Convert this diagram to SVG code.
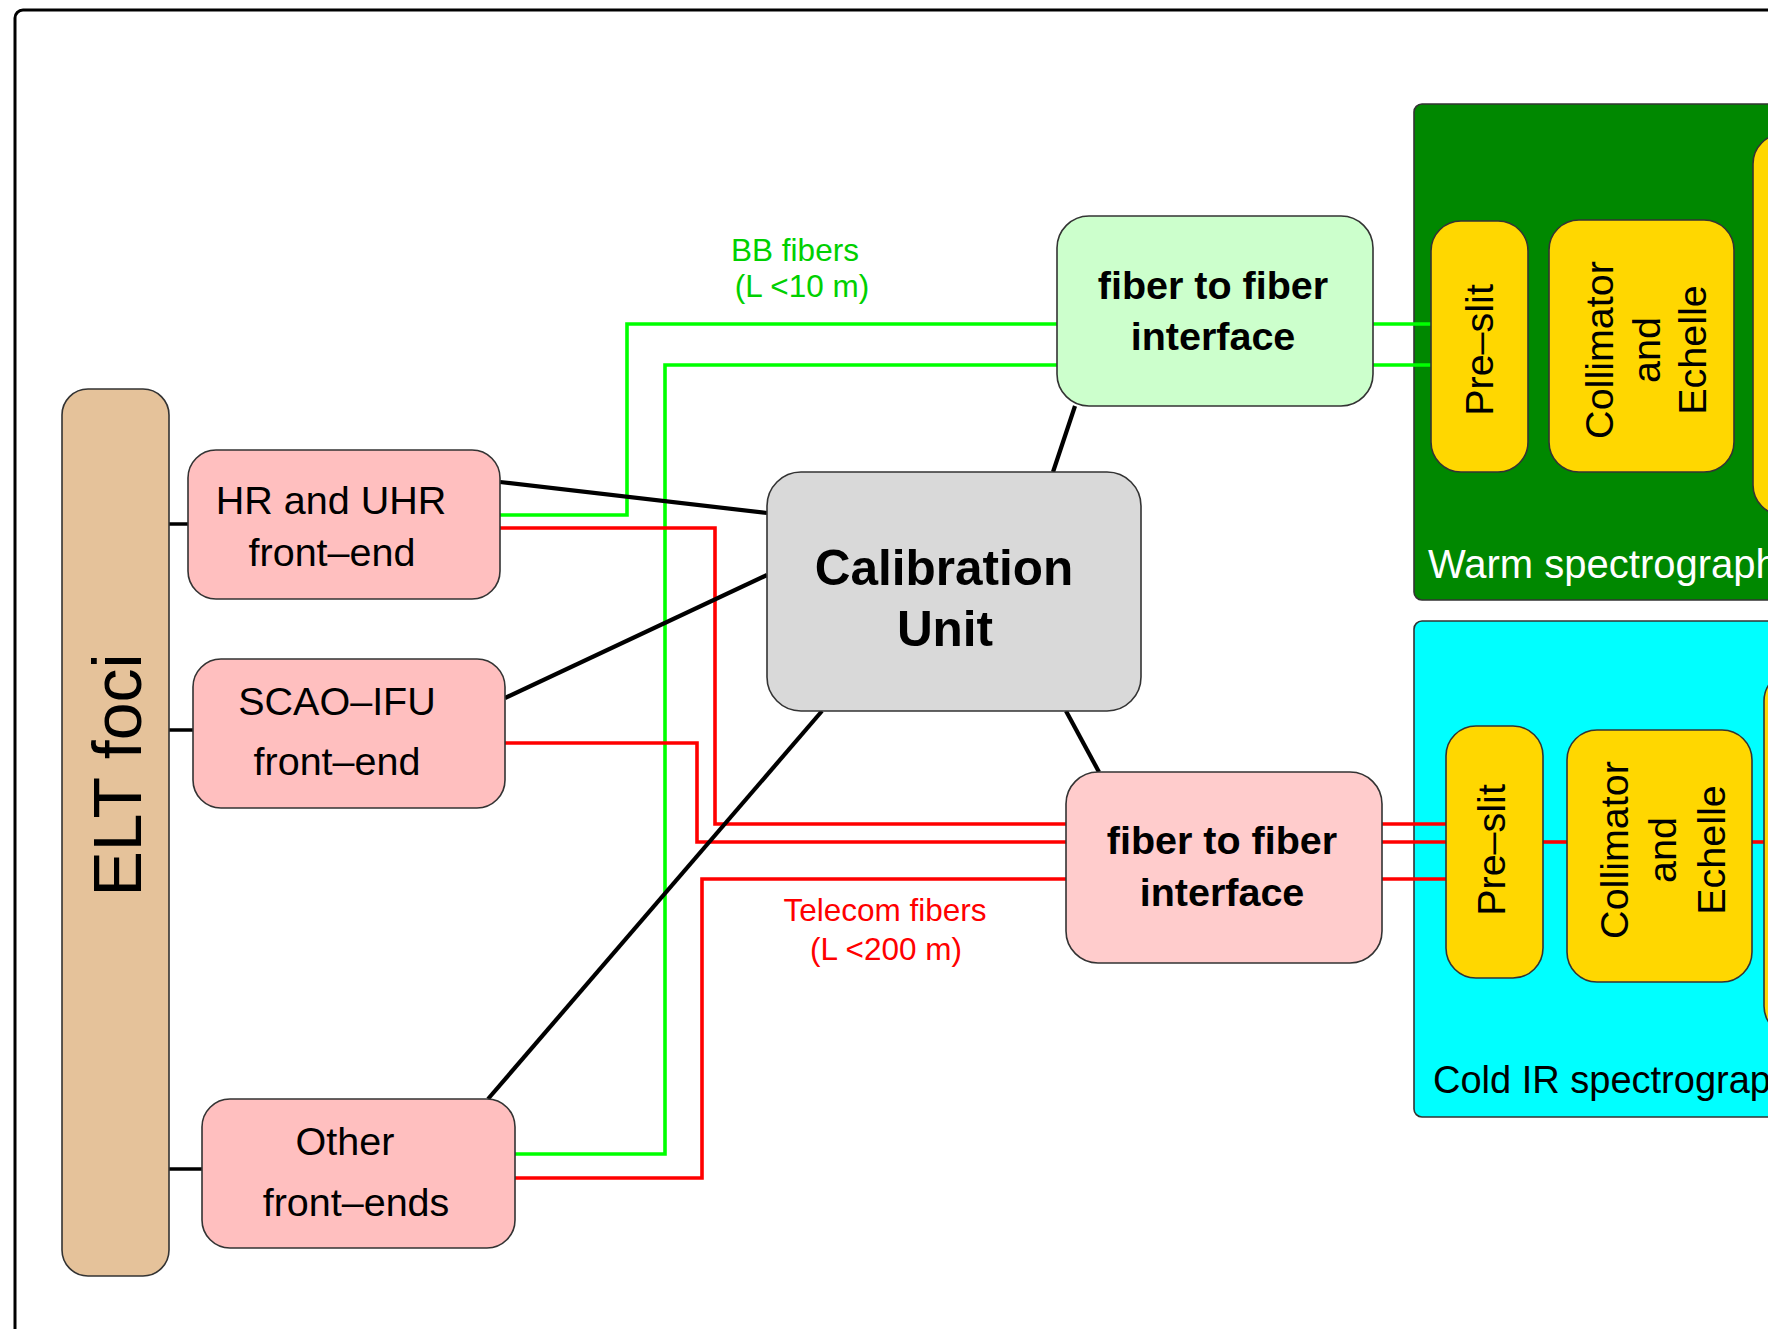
<svg xmlns="http://www.w3.org/2000/svg" width="1768" height="1329" viewBox="0 0 1768 1329">
  <style>
    text { font-family: "Liberation Sans", Arial, Helvetica, sans-serif; }
    .box { stroke: #333333; stroke-width: 1.6; }
    .lbl { font-size: 39.5px; fill: #000000; text-anchor: middle; }
    .bold { font-weight: bold; }
    .wire { fill: none; stroke: #000000; stroke-width: 4.2; }
    .stub { fill: none; stroke: #000000; stroke-width: 3.5; }
    .bb { fill: none; stroke: #00FF00; stroke-width: 3.6; }
    .tel { fill: none; stroke: #FF0000; stroke-width: 3.6; }
    .frontend { fill: #FFBFBF; }
    .yellow { fill: #FFD700; }
  </style>

  <rect width="1768" height="1329" fill="#FFFFFF"/>

  <!-- outer frame -->
  <rect x="15" y="10" width="1800" height="1360" rx="8" fill="none" stroke="#000000" stroke-width="3"/>

  <!-- spectrograph enclosures -->
  <g id="warm-spectrograph">
    <rect class="box" x="1414" y="104" width="400" height="496" rx="8" fill="#008800"/>
    <text x="1428" y="578" style="font-size:40px" fill="#FFFFFF">Warm spectrograph</text>
  </g>
  <g id="cold-spectrograph">
    <rect class="box" x="1414" y="621" width="400" height="496" rx="8" fill="#00FFFF"/>
    <text x="1433" y="1093" style="font-size:38px" fill="#000000">Cold IR spectrograph</text>
  </g>

  <!-- fiber runs and connectors -->
  <g id="connectors">
    <!-- BB fibers (green) -->
    <polyline class="bb" points="500,515 627,515 627,324 1057,324"/>
    <polyline class="bb" points="515,1154 665,1154 665,365 1057,365"/>
    <line class="bb" x1="1373" y1="324" x2="1431" y2="324"/>
    <line class="bb" x1="1373" y1="365" x2="1431" y2="365"/>

    <!-- Telecom fibers (red) -->
    <polyline class="tel" points="500,528 715,528 715,824 1066,824"/>
    <polyline class="tel" points="505,743 697,743 697,842 1066,842"/>
    <polyline class="tel" points="515,1178 702,1178 702,879 1066,879"/>
    <line class="tel" x1="1382" y1="824" x2="1446" y2="824"/>
    <line class="tel" x1="1382" y1="842" x2="1446" y2="842"/>
    <line class="tel" x1="1382" y1="879" x2="1446" y2="879"/>
    <line class="tel" x1="1543" y1="842" x2="1567" y2="842"/>
    <line class="tel" x1="1752" y1="842" x2="1764" y2="842"/>

    <!-- ELT foci to front-ends -->
    <line class="stub" x1="169" y1="524" x2="188" y2="524"/>
    <line class="stub" x1="169" y1="730" x2="193" y2="730"/>
    <line class="stub" x1="169" y1="1169" x2="202" y2="1169"/>

    <!-- calibration links -->
    <line class="wire" x1="500" y1="482" x2="767" y2="513"/>
    <line class="wire" x1="505" y1="698" x2="767" y2="575"/>
    <line class="wire" x1="488" y1="1099" x2="822" y2="711"/>
    <line class="wire" x1="1053" y1="472" x2="1075" y2="406"/>
    <line class="wire" x1="1066" y1="711" x2="1099" y2="772"/>
  </g>

  <!-- fiber labels -->
  <g id="bb-label" fill="#00D000" style="font-size:31.5px" text-anchor="middle">
    <text x="795" y="261">BB fibers</text>
    <text x="802" y="297">(L &lt;10 m)</text>
  </g>
  <g id="telecom-label" fill="#FF0000" style="font-size:31.5px" text-anchor="middle">
    <text x="885" y="921">Telecom fibers</text>
    <text x="886" y="960">(L &lt;200 m)</text>
  </g>

  <!-- ELT foci -->
  <g id="elt-foci">
    <rect class="box" x="62" y="389" width="107" height="887" rx="26" fill="#E5C29A"/>
    <text transform="translate(141,775) rotate(-90)" style="font-size:68px" text-anchor="middle">ELT foci</text>
  </g>

  <!-- front-ends -->
  <g id="hr-uhr-front-end">
    <rect class="box frontend" x="188" y="450" width="312" height="149" rx="28"/>
    <text class="lbl" x="331" y="514">HR and UHR</text>
    <text class="lbl" x="332" y="566">front–end</text>
  </g>
  <g id="scao-ifu-front-end">
    <rect class="box frontend" x="193" y="659" width="312" height="149" rx="28"/>
    <text class="lbl" x="337" y="715">SCAO–IFU</text>
    <text class="lbl" x="337" y="775">front–end</text>
  </g>
  <g id="other-front-ends">
    <rect class="box frontend" x="202" y="1099" width="313" height="149" rx="28"/>
    <text class="lbl" x="345" y="1155">Other</text>
    <text class="lbl" x="356" y="1216">front–ends</text>
  </g>

  <!-- calibration unit -->
  <g id="calibration-unit">
    <rect class="box" x="767" y="472" width="374" height="239" rx="34" fill="#D9D9D9"/>
    <text class="lbl bold" x="944" y="585" style="font-size:49.5px">Calibration</text>
    <text class="lbl bold" x="945" y="646" style="font-size:49.5px">Unit</text>
  </g>

  <!-- fiber-to-fiber interfaces -->
  <g id="bb-interface">
    <rect class="box" x="1057" y="216" width="316" height="190" rx="32" fill="#CCFFCC"/>
    <text class="lbl bold" x="1213" y="299">fiber to fiber</text>
    <text class="lbl bold" x="1213" y="350">interface</text>
  </g>
  <g id="telecom-interface">
    <rect class="box" x="1066" y="772" width="316" height="191" rx="32" fill="#FFCCCC"/>
    <text class="lbl bold" x="1222" y="854">fiber to fiber</text>
    <text class="lbl bold" x="1222" y="906">interface</text>
  </g>

  <!-- warm spectrograph modules -->
  <g id="warm-pre-slit">
    <rect class="box yellow" x="1431" y="221" width="97" height="251" rx="30"/>
    <text class="lbl" transform="translate(1493,350) rotate(-90)">Pre–slit</text>
  </g>
  <g id="warm-collimator">
    <rect class="box yellow" x="1549" y="220" width="185" height="252" rx="30"/>
    <text class="lbl" transform="translate(1613,350) rotate(-90)">Collimator</text>
    <text class="lbl" transform="translate(1660,350) rotate(-90)">and</text>
    <text class="lbl" transform="translate(1706,350) rotate(-90)">Echelle</text>
  </g>
  <g id="warm-camera">
    <rect class="box yellow" x="1753" y="134" width="100" height="381" rx="30"/>
  </g>

  <!-- cold spectrograph modules -->
  <g id="cold-pre-slit">
    <rect class="box yellow" x="1446" y="726" width="97" height="252" rx="30"/>
    <text class="lbl" transform="translate(1505,850) rotate(-90)">Pre–slit</text>
  </g>
  <g id="cold-collimator">
    <rect class="box yellow" x="1567" y="730" width="185" height="252" rx="30"/>
    <text class="lbl" transform="translate(1628,850) rotate(-90)">Collimator</text>
    <text class="lbl" transform="translate(1676,850) rotate(-90)">and</text>
    <text class="lbl" transform="translate(1725,850) rotate(-90)">Echelle</text>
  </g>
  <g id="cold-camera">
    <rect class="box yellow" x="1764" y="671" width="100" height="365" rx="30"/>
  </g>
</svg>
